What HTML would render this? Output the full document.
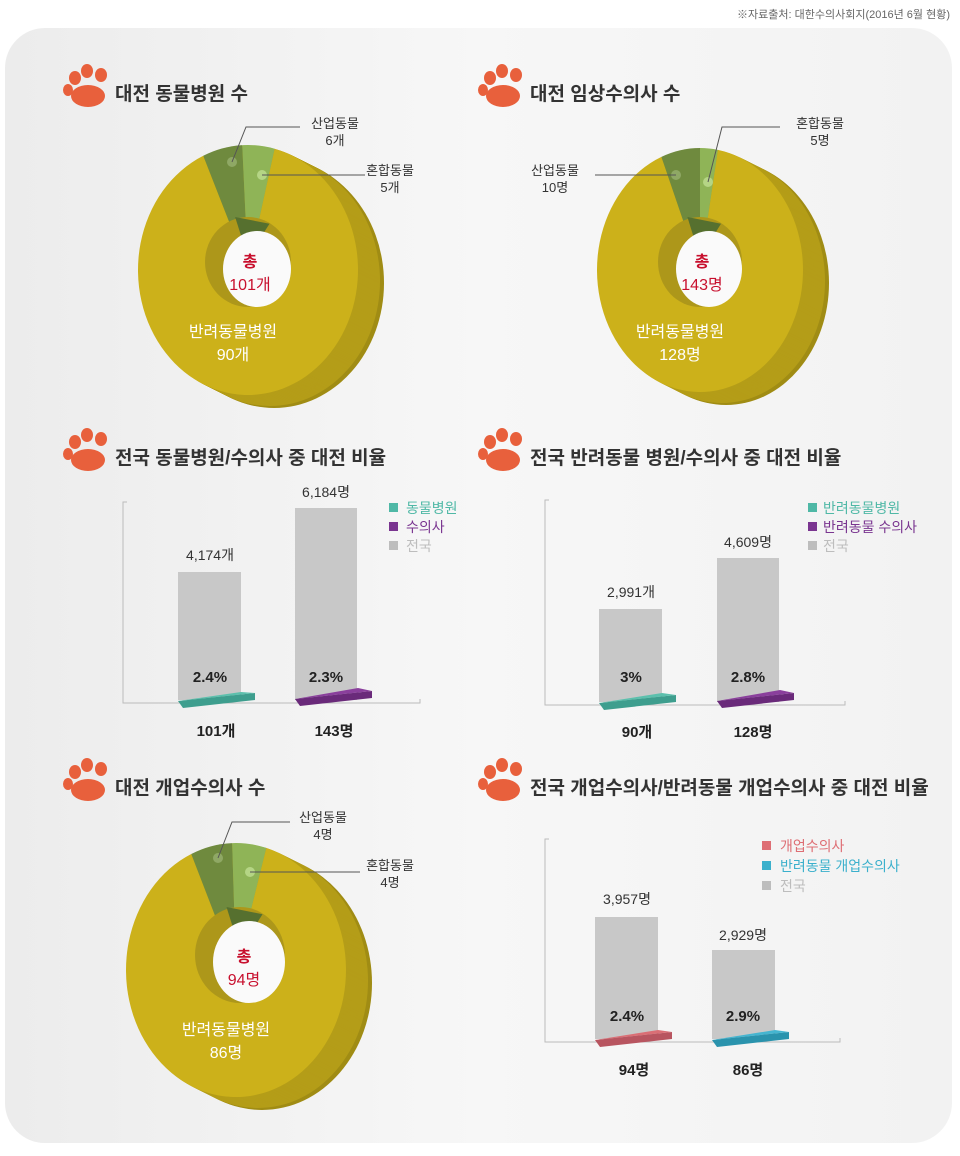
<!DOCTYPE html>
<html><head><meta charset="utf-8"><style>
html,body{margin:0;padding:0;background:#fff;}
body{width:960px;height:1151px;overflow:hidden;font-family:"Liberation Sans","Noto Sans CJK KR",sans-serif;}
svg text{font-family:"Liberation Sans","Noto Sans CJK KR",sans-serif;}
</style></head><body>
<svg id="s" width="960" height="1151" viewBox="0 0 960 1151" xmlns="http://www.w3.org/2000/svg">
<defs>
<linearGradient id="bg" x1="0" y1="0" x2="1" y2="0"><stop offset="0" stop-color="#ececec"/><stop offset="0.5" stop-color="#f7f7f7"/><stop offset="1" stop-color="#f2f2f2"/></linearGradient>
<g id="paw"><ellipse cx="0" cy="10" rx="17" ry="11" fill="#e8603c"/><ellipse cx="-13" cy="-8" rx="6" ry="7" fill="#e8603c"/><ellipse cx="-1" cy="-15" rx="6" ry="7" fill="#e8603c"/><ellipse cx="13" cy="-11" rx="6" ry="7" fill="#e8603c"/><ellipse cx="-20" cy="4" rx="5" ry="6" fill="#e8603c"/></g>
</defs>
<rect x="5" y="28" width="947" height="1115" rx="40" fill="url(#bg)"/>
<text x="950" y="18" font-size="11" fill="#666" text-anchor="end">※자료출처: 대한수의사회지(2016년 6월 현황)</text>

<use href="#paw" x="88" y="86"/><text x="115" y="100" font-size="19" font-weight="bold" fill="#333">대전 동물병원 수</text>
<use href="#paw" x="503" y="86"/><text x="530" y="100" font-size="19" font-weight="bold" fill="#333">대전 임상수의사 수</text>
<use href="#paw" x="88" y="450"/><text x="115" y="464" font-size="19" font-weight="bold" fill="#333">전국 동물병원/수의사 중 대전 비율</text>
<use href="#paw" x="503" y="450"/><text x="530" y="464" font-size="19" font-weight="bold" fill="#333">전국 반려동물 병원/수의사 중 대전 비율</text>
<use href="#paw" x="88" y="780"/><text x="115" y="794" font-size="19" font-weight="bold" fill="#333">대전 개업수의사 수</text>
<use href="#paw" x="503" y="780"/><text x="530" y="794" font-size="19" font-weight="bold" fill="#333">전국 개업수의사/반려동물 개업수의사 중 대전 비율</text>

<g id="donuts"></g>

<g font-size="13" fill="#333" text-anchor="middle">
<text x="335" y="128">산업동물</text><text x="335" y="145">6개</text>
<text x="390" y="175">혼합동물</text><text x="390" y="192">5개</text>
<text x="820" y="128">혼합동물</text><text x="820" y="145">5명</text>
<text x="555" y="175">산업동물</text><text x="555" y="192">10명</text>
<text x="323" y="822">산업동물</text><text x="323" y="839">4명</text>
<text x="390" y="870">혼합동물</text><text x="390" y="887">4명</text>
</g>
<g stroke="#555" stroke-width="1" fill="none">
<polyline points="232,162 246,127 300,127"/>
<polyline points="262,175 365,175"/>
<polyline points="708,182 722,127 780,127"/>
<polyline points="676,175 595,175"/>
<polyline points="218,858 232,822 290,822"/>
<polyline points="250,872 360,872"/>
</g>
<g font-size="16" text-anchor="middle">
<text x="250" y="267" fill="#c8102e" font-weight="bold">총</text><text x="250" y="290" fill="#c8102e">101개</text>
<text x="233" y="337" fill="#fff">반려동물병원</text><text x="233" y="360" fill="#fff">90개</text>
<text x="702" y="267" fill="#c8102e" font-weight="bold">총</text><text x="702" y="290" fill="#c8102e">143명</text>
<text x="680" y="337" fill="#fff">반려동물병원</text><text x="680" y="360" fill="#fff">128명</text>
<text x="244" y="962" fill="#c8102e" font-weight="bold">총</text><text x="244" y="985" fill="#c8102e">94명</text>
<text x="226" y="1035" fill="#fff">반려동물병원</text><text x="226" y="1058" fill="#fff">86명</text>
</g>

<g stroke="#bbb" fill="none"><polyline points="127,502 123,502 123,703 420,703 420,699"/></g>
<rect x="178" y="572" width="63" height="128" fill="#c8c8c8"/>
<rect x="295" y="508" width="62" height="192" fill="#c8c8c8"/>
<polygon points="178,701 255,693 255,700 183,708" fill="#3e9e8e"/><polygon points="178,701 241,692 255,693 178,701" fill="#5cc0ad"/>
<polygon points="295,699 372,691 372,698 300,706" fill="#6a2a7a"/><polygon points="295,699 358,688 372,691" fill="#8a3f9c"/>
<g font-size="14" fill="#333" text-anchor="middle"><text x="210" y="560">4,174개</text><text x="326" y="497">6,184명</text></g>
<g font-size="15" fill="#222" text-anchor="middle" font-weight="bold"><text x="210" y="682">2.4%</text><text x="326" y="682">2.3%</text><text x="216" y="736">101개</text><text x="334" y="736">143명</text></g>
<g font-size="14"><rect x="389" y="503" width="9" height="9" fill="#4fb8a6"/><text x="406" y="513" fill="#4fb8a6">동물병원</text>
<rect x="389" y="522" width="9" height="9" fill="#7a3590"/><text x="406" y="532" fill="#7a3590">수의사</text>
<rect x="389" y="541" width="9" height="9" fill="#bdbdbd"/><text x="406" y="551" fill="#bdbdbd">전국</text></g>

<g stroke="#bbb" fill="none"><polyline points="549,500 545,500 545,705 845,705 845,701"/></g>
<rect x="599" y="609" width="63" height="93" fill="#c8c8c8"/>
<rect x="717" y="558" width="62" height="144" fill="#c8c8c8"/>
<polygon points="599,703 676,695 676,702 604,710" fill="#3e9e8e"/><polygon points="599,703 662,693 676,695" fill="#5cc0ad"/>
<polygon points="717,701 794,693 794,700 722,708" fill="#6a2a7a"/><polygon points="717,701 780,690 794,693" fill="#8a3f9c"/>
<g font-size="14" fill="#333" text-anchor="middle"><text x="631" y="597">2,991개</text><text x="748" y="547">4,609명</text></g>
<g font-size="15" fill="#222" text-anchor="middle" font-weight="bold"><text x="631" y="682">3%</text><text x="748" y="682">2.8%</text><text x="637" y="737">90개</text><text x="753" y="737">128명</text></g>
<g font-size="14"><rect x="808" y="503" width="9" height="9" fill="#4fb8a6"/><text x="823" y="513" fill="#4fb8a6">반려동물병원</text>
<rect x="808" y="522" width="9" height="9" fill="#7a3590"/><text x="823" y="532" fill="#7a3590">반려동물 수의사</text>
<rect x="808" y="541" width="9" height="9" fill="#bdbdbd"/><text x="823" y="551" fill="#bdbdbd">전국</text></g>

<g stroke="#bbb" fill="none"><polyline points="549,839 545,839 545,1042 840,1042 840,1038"/></g>
<rect x="595" y="917" width="63" height="122" fill="#c8c8c8"/>
<rect x="712" y="950" width="63" height="89" fill="#c8c8c8"/>
<polygon points="595,1040 672,1032 672,1039 600,1047" fill="#b85560"/><polygon points="595,1040 658,1030 672,1032" fill="#da6e75"/>
<polygon points="712,1040 789,1032 789,1039 717,1047" fill="#2a93ad"/><polygon points="712,1040 775,1030 789,1032" fill="#45b5d0"/>
<g font-size="14" fill="#333" text-anchor="middle"><text x="627" y="904">3,957명</text><text x="743" y="940">2,929명</text></g>
<g font-size="15" fill="#222" text-anchor="middle" font-weight="bold"><text x="627" y="1021">2.4%</text><text x="743" y="1021">2.9%</text><text x="634" y="1075">94명</text><text x="748" y="1075">86명</text></g>
<g font-size="14"><rect x="762" y="841" width="9" height="9" fill="#de6e74"/><text x="780" y="851" fill="#de6e74">개업수의사</text>
<rect x="762" y="861" width="9" height="9" fill="#3bb0cc"/><text x="780" y="871" fill="#3bb0cc">반려동물 개업수의사</text>
<rect x="762" y="881" width="9" height="9" fill="#bdbdbd"/><text x="780" y="891" fill="#bdbdbd">전국</text></g>
</svg>
<script>
(function(){
var NS="http://www.w3.org/2000/svg",g=document.getElementById("donuts");
function el(t,a){var e=document.createElementNS(NS,t);for(var k in a)e.setAttribute(k,a[k]);g.appendChild(e);return e;}
function pt(cx,cy,rx,ry,a){a=a*Math.PI/180;return [cx+rx*Math.sin(a),cy-ry*Math.cos(a)];}
function wedge(cx,cy,rx,ry,a,b,f){var p=pt(cx,cy,rx,ry,a),q=pt(cx,cy,rx,ry,b);var large=(b-a)>180?1:0;
el("path",{d:"M"+cx+","+cy+"L"+p[0]+","+p[1]+"A"+rx+","+ry+" 0 "+large+" 1 "+q[0]+","+q[1]+"Z",fill:f});}
function donut(cx,cy,rx,ry,hx,hy,hrx,hry,a1,a2,a3){
for(var i=26;i>=1;i--){el("ellipse",{cx:cx+i,cy:cy+i*0.5,rx:rx,ry:ry,fill:i>22?"#a08c14":"#b49d18"});}
wedge(cx,cy,rx,ry,a3,a1+360,"#ccb11a");
wedge(cx,cy,rx,ry,a1,a2,"#6f8a3e");
wedge(cx,cy,rx,ry,a2,a3,"#8fb457");
el("ellipse",{cx:hx,cy:hy,rx:hrx,ry:hry,fill:"#ad971a"});
el("path",{d:"M"+(hx-hrx*0.3)+","+(hy-hry)+"L"+hx+","+(hy-hry*0.1)+"L"+(hx+hrx*0.5)+","+(hy-hry*0.85)+"Z",fill:"#56702f"});
el("ellipse",{cx:hx+9,cy:hy+7,rx:hrx-9,ry:hry-7,fill:"#fafafa"});
}
donut(248,270,110,125,248,262,43,45,-24,-3,14);
donut(700,270,103,122,700,262,42,45,-22,0,10);
donut(236,970,110,127,240,955,45,48,-24,-2,16);
el("circle",{cx:232,cy:162,r:5,fill:"#8fa865"});el("circle",{cx:262,cy:175,r:5,fill:"#b5d585"});
el("circle",{cx:676,cy:175,r:5,fill:"#8fa865"});el("circle",{cx:708,cy:182,r:5,fill:"#b5d585"});
el("circle",{cx:218,cy:858,r:5,fill:"#8fa865"});el("circle",{cx:250,cy:872,r:5,fill:"#b5d585"});
})();
</script>
</body></html>
